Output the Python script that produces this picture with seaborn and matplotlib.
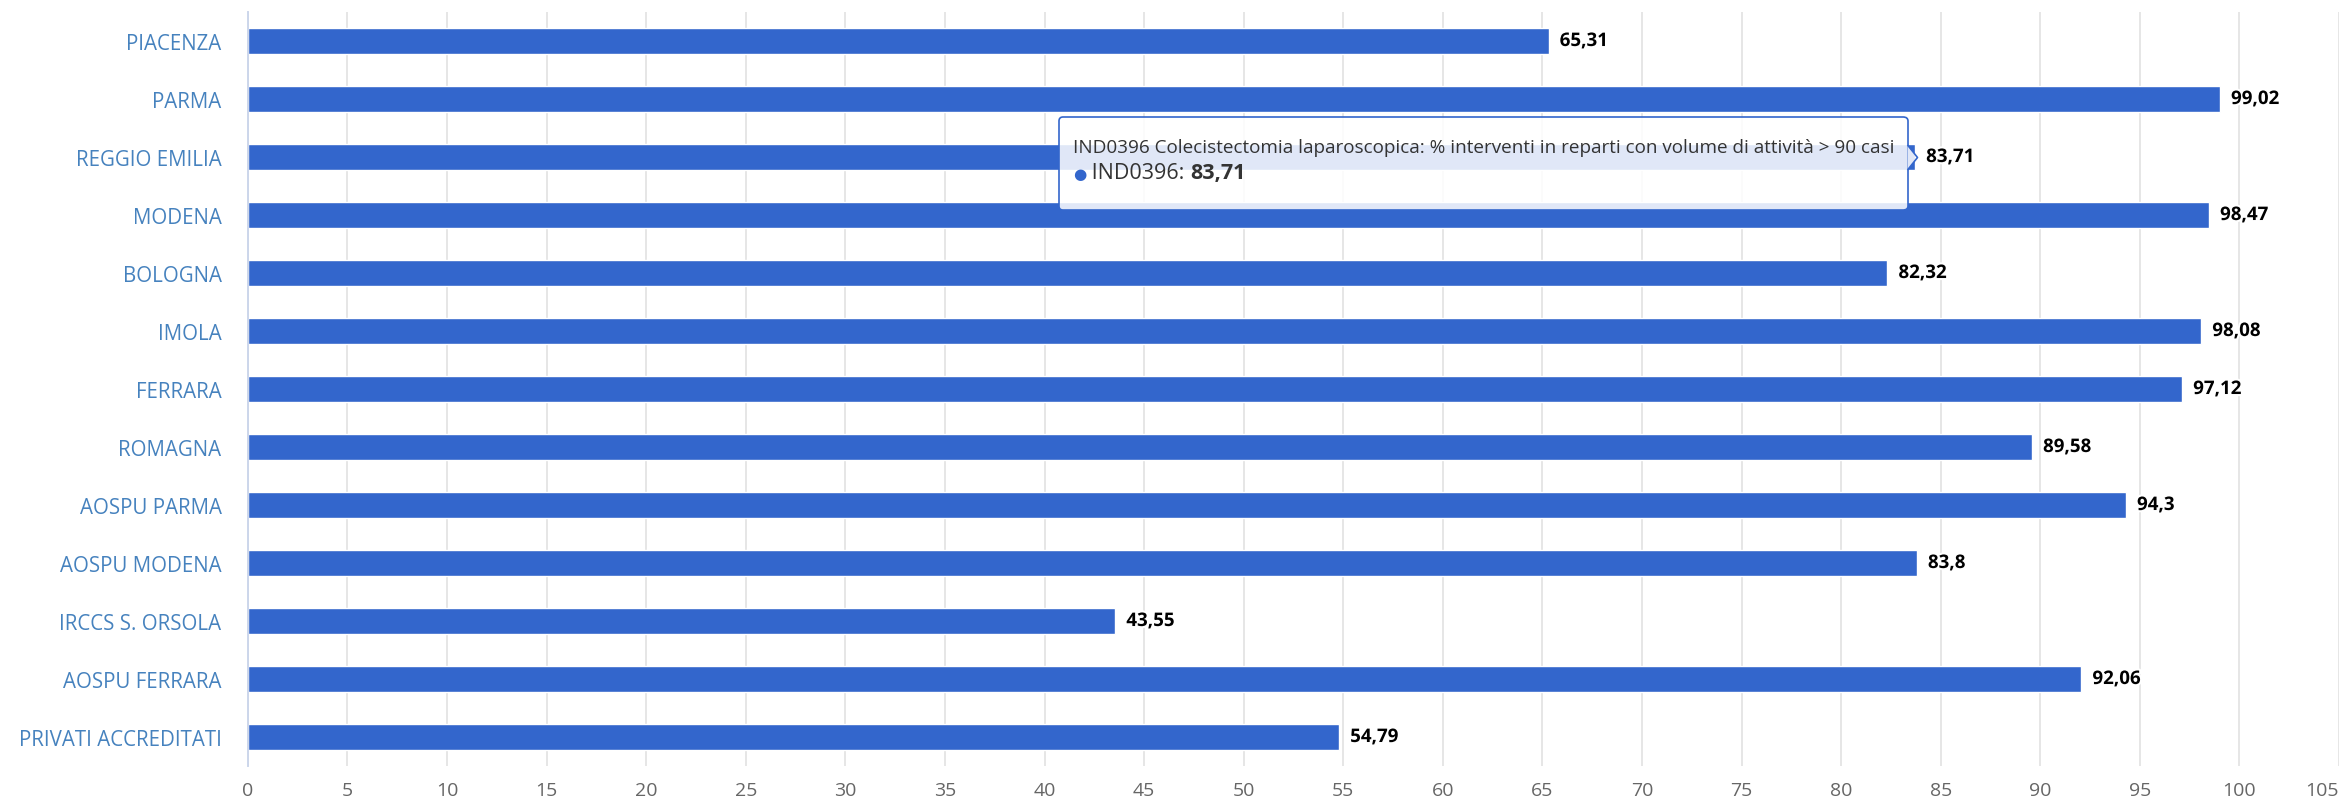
import numpy as np
import pandas as pd
import matplotlib.pyplot as plt
import matplotlib.transforms as mtransforms
import matplotlib.patheffects as pe
import seaborn as sns
from matplotlib.offsetbox import TextArea, HPacker, VPacker, AnnotationBbox, DrawingArea

categories = ['PIACENZA', 'PARMA', 'REGGIO EMILIA', 'MODENA', 'BOLOGNA', 'IMOLA',
              'FERRARA', 'ROMAGNA', 'AOSPU PARMA', 'AOSPU MODENA',
              'IRCCS S. ORSOLA', 'AOSPU FERRARA', 'PRIVATI ACCREDITATI']
values = [65.31, 99.02, 83.71, 98.47, 82.32, 98.08, 97.12, 89.58, 94.3, 83.8,
          43.55, 92.06, 54.79]
x_ticks = list(range(0, 110, 5))

series_name = 'IND0396'
tooltip_title = ('IND0396 Colecistectomia laparoscopica: % interventi in reparti '
                 'con volume di attività > 90 casi')
tooltip_idx = 2  # REGGIO EMILIA

BAR = '#3366cc'
LABEL_BLUE = '#4682be'
AXIS_LINE = '#ccd6eb'


def fmt(v):
    return f'{v:g}'.replace('.', ',')


sns.set_theme(style='white')
plt.rcParams['font.family'] = ['Open Sans', 'DejaVu Sans']

fig, ax = plt.subplots(figsize=(23.43, 8.04), dpi=100)
fig.subplots_adjust(left=0.1058, right=0.9983, top=0.9838, bottom=0.046)

df = pd.DataFrame({'Area': categories, 'Valore': values})
sns.barplot(data=df, y='Area', x='Valore', color=BAR, saturation=1,
            width=0.45, ax=ax, zorder=2)

ax.set_xlim(0, 105)
ax.set_ylim(len(categories) - 0.5, -0.5)
ax.set_xticks(x_ticks)
ax.set_xlabel('')
ax.set_ylabel('')
ax.grid(axis='x', color='#e6e6e6', linewidth=1.4)
ax.set_axisbelow(True)

for side in ['top', 'right', 'bottom']:
    ax.spines[side].set_visible(False)
ax.spines['left'].set_color(AXIS_LINE)
ax.spines['left'].set_linewidth(1.4)

ax.tick_params(axis='x', length=0, pad=11, labelsize=14, labelcolor='#666666')
ax.tick_params(axis='y', which='major', length=0, pad=19, labelsize=14.8,
               labelcolor=LABEL_BLUE)
ax.set_yticks(np.arange(0.5, len(categories), 1), minor=True)
ax.tick_params(axis='y', which='minor', length=13, width=1.4, color=AXIS_LINE)
# last tick label pushed inside the figure, like the original
ax.get_xticklabels()[-1].set_ha('right')

# value labels
for i, v in enumerate(values):
    ax.annotate(fmt(v), xy=(v, i), xytext=(8, 0), textcoords='offset points',
                va='center', ha='left', fontsize=13.5, fontweight='bold',
                color='black', zorder=6,
                path_effects=[pe.withStroke(linewidth=3, foreground='white')])

# tooltip
v_tip = values[tooltip_idx]
line1 = TextArea(tooltip_title, textprops=dict(fontsize=13.6, color='#333333'))
dot = TextArea('●', textprops=dict(fontsize=11, color=BAR))
name = TextArea(f' {series_name}: ', textprops=dict(fontsize=15.5, color='#333333'))
val = TextArea(fmt(v_tip), textprops=dict(fontsize=15.5, color='#333333',
                                          fontweight='bold'))
line2 = HPacker(children=[dot, name, val], align='baseline', pad=0, sep=0)
box = VPacker(children=[DrawingArea(1, 1), line1, line2, DrawingArea(1, 5)],
              align='left', pad=10, sep=4.5)
ab = AnnotationBbox(box, (v_tip, tooltip_idx), xybox=(-5, -4.7),
                    xycoords='data', boxcoords='offset points',
                    box_alignment=(1, 0.5), pad=0.0, zorder=5,
                    bboxprops=dict(boxstyle='round,pad=0,rounding_size=0.3',
                                   facecolor=(1, 1, 1, 0.85), edgecolor=BAR,
                                   linewidth=1.2))
ax.add_artist(ab)

shift = mtransforms.ScaledTranslation(-2 / 72, 0, fig.dpi_scale_trans)
ax.plot([v_tip], [tooltip_idx], marker=[(-0.2, -0.5), (0.2, 0), (-0.2, 0.5)],
        ms=18, mfc=(1, 1, 1, 0.85), mec=BAR, mew=1.2,
        transform=ax.transData + shift, zorder=5.5, clip_on=False)

fig.savefig('out.png', dpi=100)
